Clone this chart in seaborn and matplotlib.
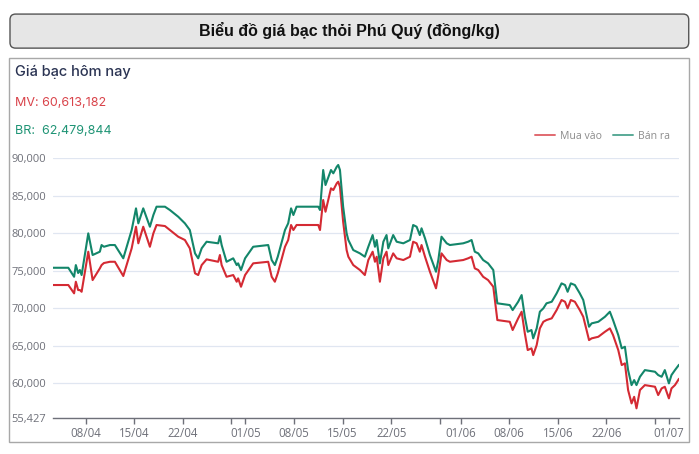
import pandas as pd
import seaborn as sns
import matplotlib.pyplot as plt
from matplotlib.patches import FancyBboxPatch, Rectangle
from matplotlib.lines import Line2D

# Giá bạc thỏi Phú Quý, nghìn đồng/kg
times = [
    "2024-04-03 07:00", "2024-04-05 12:00", "2024-04-06 08:00", "2024-04-06 14:00", "2024-04-06 22:00",
    "2024-04-07 04:00", "2024-04-07 10:00", "2024-04-08 09:00", "2024-04-09 00:00", "2024-04-10 01:00",
    "2024-04-10 07:00", "2024-04-10 15:00", "2024-04-11 12:00", "2024-04-12 05:00", "2024-04-13 10:00",
    "2024-04-14 15:00", "2024-04-15 06:00", "2024-04-15 14:00", "2024-04-16 07:00", "2024-04-17 06:00",
    "2024-04-17 18:00", "2024-04-18 05:00", "2024-04-19 10:00", "2024-04-20 03:00", "2024-04-21 08:00",
    "2024-04-22 07:00", "2024-04-23 00:00", "2024-04-23 18:00", "2024-04-24 05:00", "2024-04-24 17:00",
    "2024-04-25 10:00", "2024-04-27 02:00", "2024-04-27 08:00", "2024-04-27 14:00", "2024-04-28 07:00",
    "2024-04-29 06:00", "2024-04-29 18:00", "2024-04-29 23:00", "2024-04-30 09:00", "2024-04-30 23:00",
    "2024-05-02 03:00", "2024-05-04 07:00", "2024-05-04 19:00", "2024-05-05 06:00", "2024-05-05 16:00",
    "2024-05-06 17:00", "2024-05-07 04:00", "2024-05-07 14:00", "2024-05-07 22:00", "2024-05-08 09:00",
    "2024-05-11 12:00", "2024-05-11 18:00", "2024-05-12 05:00", "2024-05-12 13:00", "2024-05-13 08:00",
    "2024-05-13 16:00", "2024-05-14 04:00", "2024-05-14 09:00", "2024-05-14 15:00", "2024-05-15 02:00",
    "2024-05-15 14:00", "2024-05-15 20:00", "2024-05-16 13:00", "2024-05-17 12:00", "2024-05-18 05:00",
    "2024-05-18 17:00", "2024-05-19 08:00", "2024-05-19 16:00", "2024-05-19 22:00", "2024-05-20 09:00",
    "2024-05-20 21:00", "2024-05-21 08:00", "2024-05-21 14:00", "2024-05-22 07:00", "2024-05-22 19:00",
    "2024-05-23 18:00", "2024-05-24 17:00", "2024-05-25 04:00", "2024-05-25 16:00", "2024-05-26 03:00",
    "2024-05-26 09:00", "2024-05-26 21:00", "2024-05-27 14:00", "2024-05-28 11:00", "2024-05-28 19:00",
    "2024-05-29 06:00", "2024-05-30 00:00", "2024-05-30 11:00", "2024-06-01 09:00", "2024-06-02 02:00",
    "2024-06-02 14:00", "2024-06-03 01:00", "2024-06-03 13:00", "2024-06-04 06:00", "2024-06-04 23:00",
    "2024-06-05 17:00", "2024-06-06 07:00", "2024-06-08 02:00", "2024-06-08 12:00", "2024-06-09 07:00",
    "2024-06-09 19:00", "2024-06-10 06:00", "2024-06-10 16:00", "2024-06-11 05:00", "2024-06-11 11:00",
    "2024-06-11 23:00", "2024-06-12 10:00", "2024-06-12 22:00", "2024-06-13 09:00", "2024-06-14 03:00",
    "2024-06-14 20:00", "2024-06-15 13:00", "2024-06-16 01:00", "2024-06-16 10:00", "2024-06-16 21:00",
    "2024-06-17 11:00", "2024-06-18 04:00", "2024-06-18 16:00", "2024-06-19 12:00", "2024-06-19 21:00",
    "2024-06-20 20:00", "2024-06-21 19:00", "2024-06-22 12:00", "2024-06-22 23:00", "2024-06-23 17:00",
    "2024-06-24 05:00", "2024-06-24 16:00", "2024-06-25 03:00", "2024-06-25 15:00", "2024-06-26 00:00",
    "2024-06-26 08:00", "2024-06-26 20:00", "2024-06-27 13:00", "2024-06-29 00:00", "2024-06-29 11:00",
    "2024-06-29 23:00", "2024-06-30 10:00", "2024-07-01 00:00", "2024-07-01 09:00", "2024-07-01 21:00",
    "2024-07-02 11:00",
]

ban_ra = [
    75410, 75410, 74210, 75770, 74710, 75110, 74440, 80000, 77110, 77550,
    78440, 78210, 78440, 78440, 76670, 80440, 83330, 81330, 83330, 80880,
    82440, 83550, 83550, 83110, 82210, 81330, 80440, 77330, 76670, 78000,
    78880, 78670, 79640, 78440, 76210, 76670, 75770, 76000, 75110, 76670,
    78210, 78440, 76440, 75770, 76880, 80440, 81330, 83330, 82440, 83550,
    83550, 83110, 88440, 86440, 88440, 88000, 88880, 89110, 88440, 83550,
    80000, 79110, 77770, 77330, 76880, 78210, 79770, 78210, 79110, 76000,
    78880, 79770, 78000, 79770, 78880, 78670, 79110, 81110, 80880, 79770,
    80670, 79330, 77110, 74880, 76440, 79550, 78670, 78440, 78670, 78880,
    79110, 77550, 77330, 76440, 76000, 75110, 70670, 70440, 69770, 70880,
    71770, 68880, 66880, 67110, 66000, 67330, 69550, 70000, 70670, 70880,
    72000, 73330, 73110, 72210, 73330, 73110, 72000, 71110, 67550, 68000,
    68210, 68880, 69550, 68440, 66440, 64670, 64880, 61770, 59770, 60440,
    59770, 60880, 61770, 61550, 61110, 60880, 61770, 60000, 61110, 61770,
    62480,
]

mua_vao = [
    73110, 73110, 72000, 73550, 72440, 72440, 72210, 77550, 73770, 75330,
    75770, 76040, 76210, 76210, 74310, 78000, 80880, 78670, 80880, 78210,
    80000, 81110, 80970, 80440, 79550, 79110, 78000, 74670, 74440, 75770,
    76530, 76210, 77110, 75770, 74210, 74440, 73550, 74000, 72880, 74440,
    76000, 76210, 74210, 73550, 74670, 78210, 79110, 81110, 80440, 81110,
    81110, 80440, 84440, 82880, 86000, 85770, 86670, 86880, 86210, 81550,
    77770, 76880, 75770, 75110, 74440, 76440, 77550, 76210, 76880, 73550,
    76670, 77550, 75770, 77330, 76670, 76440, 76880, 78880, 78670, 77550,
    78440, 76880, 74880, 72670, 74440, 77330, 76440, 76210, 76440, 76670,
    76880, 75330, 75110, 74210, 73770, 72880, 68440, 68210, 67110, 68670,
    69550, 66670, 64440, 64670, 63770, 65110, 67330, 68210, 68440, 68670,
    69770, 71110, 70880, 70000, 71110, 70880, 69770, 68880, 65770, 66000,
    66210, 66880, 67330, 66440, 64440, 62440, 62670, 59110, 57330, 58210,
    56670, 59110, 59770, 59550, 58440, 59330, 59550, 58000, 59330, 59770,
    60613,
]

tick_dates = ["2024-04-08", "2024-04-15", "2024-04-22", "2024-04-29", "2024-05-01",
              "2024-05-08", "2024-05-15", "2024-05-22", "2024-05-29", "2024-06-01",
              "2024-06-08", "2024-06-15", "2024-06-22", "2024-06-29", "2024-07-01"]
tick_labels = ["08/04", "15/04", "22/04", "", "01/05", "08/05", "15/05", "22/05", "",
               "01/06", "08/06", "15/06", "22/06", "", "01/07"]
y_ticks = [55427, 60000, 65000, 70000, 75000, 80000, 85000, 90000]

red = "#d42a33"
green = "#13866a"

t = pd.to_datetime(times)
df = pd.concat([
    pd.DataFrame({"time": t, "price": mua_vao, "series": "Mua vào"}),
    pd.DataFrame({"time": t, "price": ban_ra, "series": "Bán ra"}),
])

sns.set_theme(style="white")
plt.rcParams["font.family"] = ["Open Sans", "DejaVu Sans"]

fig = plt.figure(figsize=(6.99, 4.54), dpi=100)

# khung tiêu đề
fig.patches.append(FancyBboxPatch((0.0143, 0.894), 0.971, 0.075,
                                  boxstyle="round,pad=0,rounding_size=0.008",
                                  mutation_aspect=699 / 454,
                                  facecolor="#e6e6e6", edgecolor="#555555", lw=1,
                                  transform=fig.transFigure, figure=fig))
fig.text(0.5, 0.932, "Biểu đồ giá bạc thỏi Phú Quý (đồng/kg)", ha="center", va="center",
         fontsize=11.5, fontweight="bold", family="Liberation Sans", color="#111111")

# khung biểu đồ
fig.patches.append(Rectangle((0.0129, 0.027), 0.973, 0.846, facecolor="none",
                             edgecolor="#a8a8a8", lw=1, transform=fig.transFigure, figure=fig))

fig.text(0.0215, 0.841, "Giá bạc hôm nay", va="center", fontsize=10.5,
         fontweight="medium", family="Inter", color="#2b3453")
fig.text(0.0215, 0.773, "MV: 60,613,182", va="center", fontsize=9,
         family="Inter", color="#d9434a")
fig.text(0.0215, 0.711, "BR:  62,479,844", va="center", fontsize=9,
         family="Inter", color="#1f9475")

ax = fig.add_axes([0.0758, 0.080, 0.8956, 0.5713])
sns.lineplot(data=df, x="time", y="price", hue="series", estimator=None,
             palette={"Mua vào": red, "Bán ra": green}, linewidth=1.5,
             legend=False, ax=ax)

ax.set_xlim(t[0], t[-1])
ax.set_ylim(55427, 90000)
ax.set_yticks(y_ticks)
ax.set_yticklabels([f"{v:,}" for v in y_ticks])
ax.set_xticks(pd.to_datetime(tick_dates))
ax.set_xticklabels(tick_labels)
ax.set_xlabel("")
ax.set_ylabel("")

ax.grid(axis="y", color="#e0e6f1", lw=0.9)
ax.grid(axis="x", visible=False)
for side in ["top", "right", "left"]:
    ax.spines[side].set_visible(False)
ax.spines["bottom"].set_color("#6e7079")
ax.spines["bottom"].set_linewidth(1)
ax.tick_params(axis="y", length=0, pad=5, labelsize=8, labelcolor="#6e7079")
ax.tick_params(axis="x", length=4, width=1, color="#6e7079", direction="out",
               pad=3, labelsize=8.3, labelcolor="#6e7079", bottom=True)

handles = [Line2D([], [], color=red, lw=1.4, alpha=0.7),
           Line2D([], [], color=green, lw=1.4, alpha=0.7)]
leg = fig.legend(handles, ["Mua vào", "Bán ra"], loc="center right",
                 bbox_to_anchor=(0.972, 0.70), ncol=2, frameon=False,
                 fontsize=7.6, handlelength=1.9, handletextpad=0.5, columnspacing=1.0)
for txt in leg.get_texts():
    txt.set_color("#8c8c8c")

fig.savefig("out.png", dpi=100)
